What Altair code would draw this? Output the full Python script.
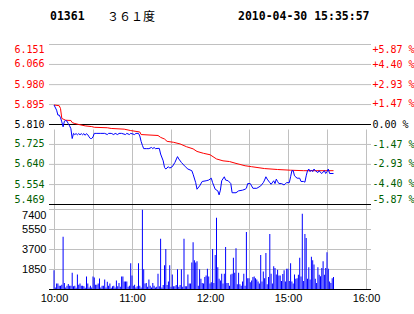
import altair as alt
import pandas as pd

# ---------------- header text ----------------
stock_code = "01361"
stock_name = "３６１度"
timestamp = "2010-04-30 15:35:57"
prev_close = 5.81

# ---------------- axis tick values / labels ----------------
price_ticks = [5.469, 5.554, 5.640, 5.725, 5.810, 5.895, 5.980, 6.066, 6.151]
pct_ticks = [-5.87, -4.40, -2.93, -1.47, 0.00, 1.47, 2.93, 4.40, 5.87]
vol_ticks = [0, 1850, 3700, 5550, 7400]
grid_minutes = [0, 30, 60, 90, 120, 150, 180, 210, 240]
label_minutes = [0, 60, 120, 180, 240]
label_times = ["10:00", "11:00", "12:00", "15:00", "16:00"]

# ---------------- price series (minutes since open) ----------------
price_minutes = [0, 2, 3, 4, 5, 6, 7, 8, 9, 10, 11, 12, 13, 14, 15, 16, 17, 18, 19, 20,
                 21, 22, 23, 24, 25, 26, 27, 28, 29, 30, 31, 33, 36, 39, 41, 42, 44, 46, 47, 49,
                 50, 52, 55, 56, 58, 59, 62, 63, 65, 66, 67, 68, 69, 71, 73, 75, 76, 77, 78, 80,
                 81, 82, 84, 85, 86, 88, 89, 91, 93, 95, 96, 98, 101, 103, 106, 107, 109, 110, 112, 114,
                 117, 119, 121, 122, 124, 126, 127, 128, 129, 131, 132, 134, 136, 137, 140, 142, 145, 147, 148, 149,
                 151, 152, 153, 156, 159, 161, 162, 163, 164, 166, 167, 169, 170, 171, 172, 173, 175, 177, 178, 179,
                 181, 182, 183, 184, 185, 187, 189, 190, 192, 193, 194, 195, 196, 197, 198, 199, 200, 201, 203, 204,
                 205, 206, 208, 209, 210, 211, 212, 215]
price_values = [5.891, 5.869, 5.848, 5.848, 5.837, 5.819, 5.798, 5.822, 5.825, 5.822, 5.811, 5.802, 5.790, 5.748, 5.770, 5.765, 5.769, 5.764, 5.769, 5.764,
                5.769, 5.764, 5.769, 5.762, 5.769, 5.764, 5.755, 5.748, 5.748, 5.755, 5.770, 5.770, 5.770, 5.770, 5.765, 5.770, 5.770, 5.765, 5.770, 5.765,
                5.770, 5.770, 5.765, 5.770, 5.765, 5.770, 5.765, 5.770, 5.770, 5.759, 5.736, 5.719, 5.705, 5.705, 5.705, 5.710, 5.705, 5.710, 5.705, 5.706,
                5.706, 5.682, 5.653, 5.625, 5.618, 5.628, 5.622, 5.628, 5.646, 5.671, 5.661, 5.646, 5.628, 5.618, 5.611, 5.596, 5.560, 5.532, 5.546, 5.565,
                5.568, 5.571, 5.579, 5.560, 5.532, 5.525, 5.508, 5.528, 5.568, 5.585, 5.571, 5.568, 5.556, 5.517, 5.517, 5.525, 5.528, 5.532, 5.536, 5.556,
                5.556, 5.546, 5.536, 5.536, 5.546, 5.560, 5.571, 5.585, 5.575, 5.560, 5.553, 5.568, 5.556, 5.575, 5.565, 5.556, 5.556, 5.550, 5.556, 5.560,
                5.560, 5.585, 5.611, 5.611, 5.589, 5.579, 5.579, 5.565, 5.565, 5.562, 5.589, 5.611, 5.618, 5.607, 5.614, 5.607, 5.618, 5.611, 5.603, 5.611,
                5.603, 5.599, 5.611, 5.599, 5.607, 5.618, 5.599, 5.599]

# ---------------- average price series ----------------
avg_minutes = [0, 4, 5, 6, 7, 9, 13, 14, 16, 19, 24, 29, 31, 41, 44, 54, 59, 66, 67, 80,
               82, 85, 87, 92, 97, 102, 107, 110, 115, 120, 125, 130, 135, 140, 147, 152, 162, 172, 182, 192, 215]
avg_values = [5.891, 5.888, 5.876, 5.834, 5.831, 5.826, 5.825, 5.816, 5.812, 5.808, 5.802, 5.799, 5.796, 5.794, 5.791, 5.788, 5.782, 5.776, 5.765, 5.761,
              5.753, 5.746, 5.736, 5.732, 5.725, 5.713, 5.704, 5.693, 5.685, 5.679, 5.661, 5.653, 5.650, 5.642, 5.632, 5.628, 5.620, 5.616, 5.613, 5.611, 5.611]

# ---------------- volume per minute ----------------
volume_values = [
    1730, 150, 500, 500, 300, 300, 400, 4840, 560, 150,
    310, 470, 310, 310, 1510, 250, 310, 120, 1350, 400,
    500, 310, 310, 250, 120, 1160, 500, 150, 310, 150,
    1160, 1070, 400, 400, 500, 970, 150, 310, 310, 880,
    150, 660, 310, 500, 120, 250, 310, 150, 790, 250,
    560, 200, 1160, 1160, 690, 690, 690, 200, 310, 2390,
    1260, 310, 400, 150, 250, 2390, 310, 150, 7320, 1820,
    500, 560, 200, 880, 310, 150, 560, 310, 150, 200,
    1410, 250, 4650, 150, 380, 2200, 3700, 380, 690, 2200,
    200, 1350, 250, 250, 380, 1820, 200, 380, 1820, 200,
    4650, 250, 250, 1350, 500, 500, 2450, 4330, 2670, 2450,
    2570, 300, 1820, 940, 560, 500, 1100, 1260, 1880, 1160,
    500, 630, 3700, 560, 3140, 6590, 2010, 940, 790, 1410,
    500, 1410, 3890, 560, 560, 300, 1350, 1410, 2890, 1510,
    3770, 440, 1510, 440, 300, 690, 1410, 300, 5280, 1000,
    1000, 630, 790, 1100, 1160, 1000, 880, 690, 500, 3140,
    690, 1630, 1000, 3330, 440, 1100, 5090, 1410, 500, 2100,
    1950, 1350, 1790, 1260, 1260, 750, 1380, 1730, 690, 1880,
    1880, 750, 2390, 690, 500, 1350, 940, 1000, 1320, 2890,
    1160, 6970, 750, 5090, 4710, 940, 2010, 880, 2980, 2670,
    2260, 940, 560, 2010, 1320, 1190, 1950, 2570, 1320, 1950,
    3390, 1880, 690, 560, 1000, 1100]

# ---------------- layout / style ----------------
W, H = 322, 245          # plot area covering both panels
PRICE_H = 160            # price panel height
VOL_TOP = 165            # volume panel top (offset from plot top)
UP, DOWN, FLAT = "#ff0000", "#006000", "#000000"
GRID = "#c0c0c0"
MONO = "DejaVu Sans Mono"
SANS = "Liberation Sans"

lines_df = pd.concat([
    pd.DataFrame({"minute": avg_minutes, "price": avg_values, "series": "avg"}),
    pd.DataFrame({"minute": price_minutes, "price": price_values, "series": "price"}),
], ignore_index=True)
vol_df = pd.DataFrame({"minute": list(range(len(volume_values))), "volume": volume_values})
pct_df = pd.DataFrame({"pct": pct_ticks})
grid_price_df = pd.DataFrame({"level": price_ticks})
grid_vol_df = pd.DataFrame({"vlevel": vol_ticks})
black_price_df = pd.DataFrame({"price": [price_ticks[0], prev_close]})
black_vol_df = pd.DataFrame({"volume": [vol_ticks[0]]})

time_expr = " : ".join(f"datum.value == {m} ? '{t}'" for m, t in zip(label_minutes, label_times)) + " : ''"

x_scale = alt.Scale(domain=[0, 240], nice=False, zero=False)
x_enc = alt.X(
    "minute:Q",
    scale=x_scale,
    axis=alt.Axis(values=grid_minutes, labelExpr=time_expr, title=None, domain=False, ticks=False,
                  grid=True, gridColor=GRID, gridWidth=1, labelFont=SANS, labelFontSize=11,
                  labelColor="#000000", labelPadding=3, labelFlush=False, labelOverlap=False),
)

price_scale = alt.Scale(domain=[price_ticks[0], price_ticks[-1]], range=[PRICE_H, 0], nice=False, zero=False)
vol_scale = alt.Scale(domain=[vol_ticks[0], vol_ticks[-1]], range=[H, VOL_TOP], nice=False, zero=True)

price_y = alt.Y(
    "price:Q",
    scale=price_scale,
    axis=alt.Axis(
        orient="left", values=price_ticks, format=".3f", title=None, domain=False, ticks=False,
        grid=False,
        labelColor={"condition": [{"test": f"datum.value > {prev_close + 0.001}", "value": UP},
                                  {"test": f"datum.value < {prev_close - 0.001}", "value": DOWN}],
                    "value": FLAT},
        labelFont=MONO, labelFontSize=10, labelPadding=5, labelFlush=True,
    ),
)

# horizontal grid lines (gray) and reference lines (black); yOffset keeps them on whole pixels
grid_price = alt.Chart(grid_price_df).mark_rule(color=GRID, strokeWidth=1, yOffset=0.5).encode(
    y=alt.Y("level:Q", scale=price_scale, axis=None)
)
grid_vol = alt.Chart(grid_vol_df).mark_rule(color=GRID, strokeWidth=1, yOffset=0.5).encode(
    y=alt.Y("vlevel:Q", scale=vol_scale, axis=None)
)
black_price = alt.Chart(black_price_df).mark_rule(color="#000000", strokeWidth=1, yOffset=0.5).encode(
    y=alt.Y("price:Q", scale=price_scale, axis=None)
)
black_vol = alt.Chart(black_vol_df).mark_rule(color="#000000", strokeWidth=1, yOffset=0.5).encode(
    y=alt.Y("volume:Q", scale=vol_scale, axis=None)
)

lines = alt.Chart(lines_df).mark_line(strokeWidth=1).encode(
    x=x_enc,
    y=price_y,
    color=alt.Color("series:N", scale=alt.Scale(domain=["avg", "price"], range=[UP, "#0000ff"]), legend=None),
)

pct_layer = alt.Chart(pct_df).mark_point(opacity=0).encode(
    y=alt.Y(
        "pct:Q",
        scale=alt.Scale(domain=[pct_ticks[0], pct_ticks[-1]], range=[PRICE_H, 0], nice=False, zero=False),
        axis=alt.Axis(
            orient="right", values=pct_ticks, title=None, domain=False, ticks=False, grid=False,
            labelExpr="(datum.value > 0 ? '+' : datum.value < 0 ? '-' : '') + format(abs(datum.value), '.2f') + ' %'",
            labelColor={"condition": [{"test": "datum.value > 0.001", "value": UP},
                                      {"test": "datum.value < -0.001", "value": DOWN}],
                        "value": FLAT},
            labelFont=MONO, labelFontSize=10, labelPadding=1, labelFlush=True,
        ),
    )
)

bars = alt.Chart(vol_df).mark_bar(size=1, color="#0000ff").encode(
    x=x_enc,
    y=alt.Y(
        "volume:Q",
        scale=vol_scale,
        axis=alt.Axis(
            orient="left", values=vol_ticks, format="d", title=None, domain=False, ticks=False,
            grid=False,
            labelExpr="datum.value == 0 ? '' : datum.label",
            labelFont=SANS, labelFontSize=11, labelColor="#000000", labelPadding=3, labelFlush=True,
        ),
    ),
)


def header(txt, x, font, weight, size):
    return alt.Chart(pd.DataFrame({"t": [txt]})).mark_text(
        align="left", baseline="middle", font=font, fontWeight=weight, fontSize=size, color="#000000"
    ).encode(x=alt.value(x), y=alt.value(-27.5), text="t:N")


h1 = header(stock_code, 1, MONO, "bold", 11.5)
h2 = header(stock_name, 58, "Noto Sans CJK SC", "normal", 12)
h3 = header(timestamp, 189, MONO, "bold", 11.5)

chart = alt.layer(grid_price, grid_vol, black_price, black_vol, lines, bars, pct_layer, h1, h2, h3).resolve_scale(
    y="independent"
).properties(
    width=W,
    height=H,
    autosize=alt.AutoSizeParams(type="none"),
    padding={"left": 49, "top": 44, "right": 43, "bottom": 25},
    background="#ffffff",
).configure_view(stroke=None)

chart.save("out.html", embed_options={"renderer": "svg", "actions": False})
